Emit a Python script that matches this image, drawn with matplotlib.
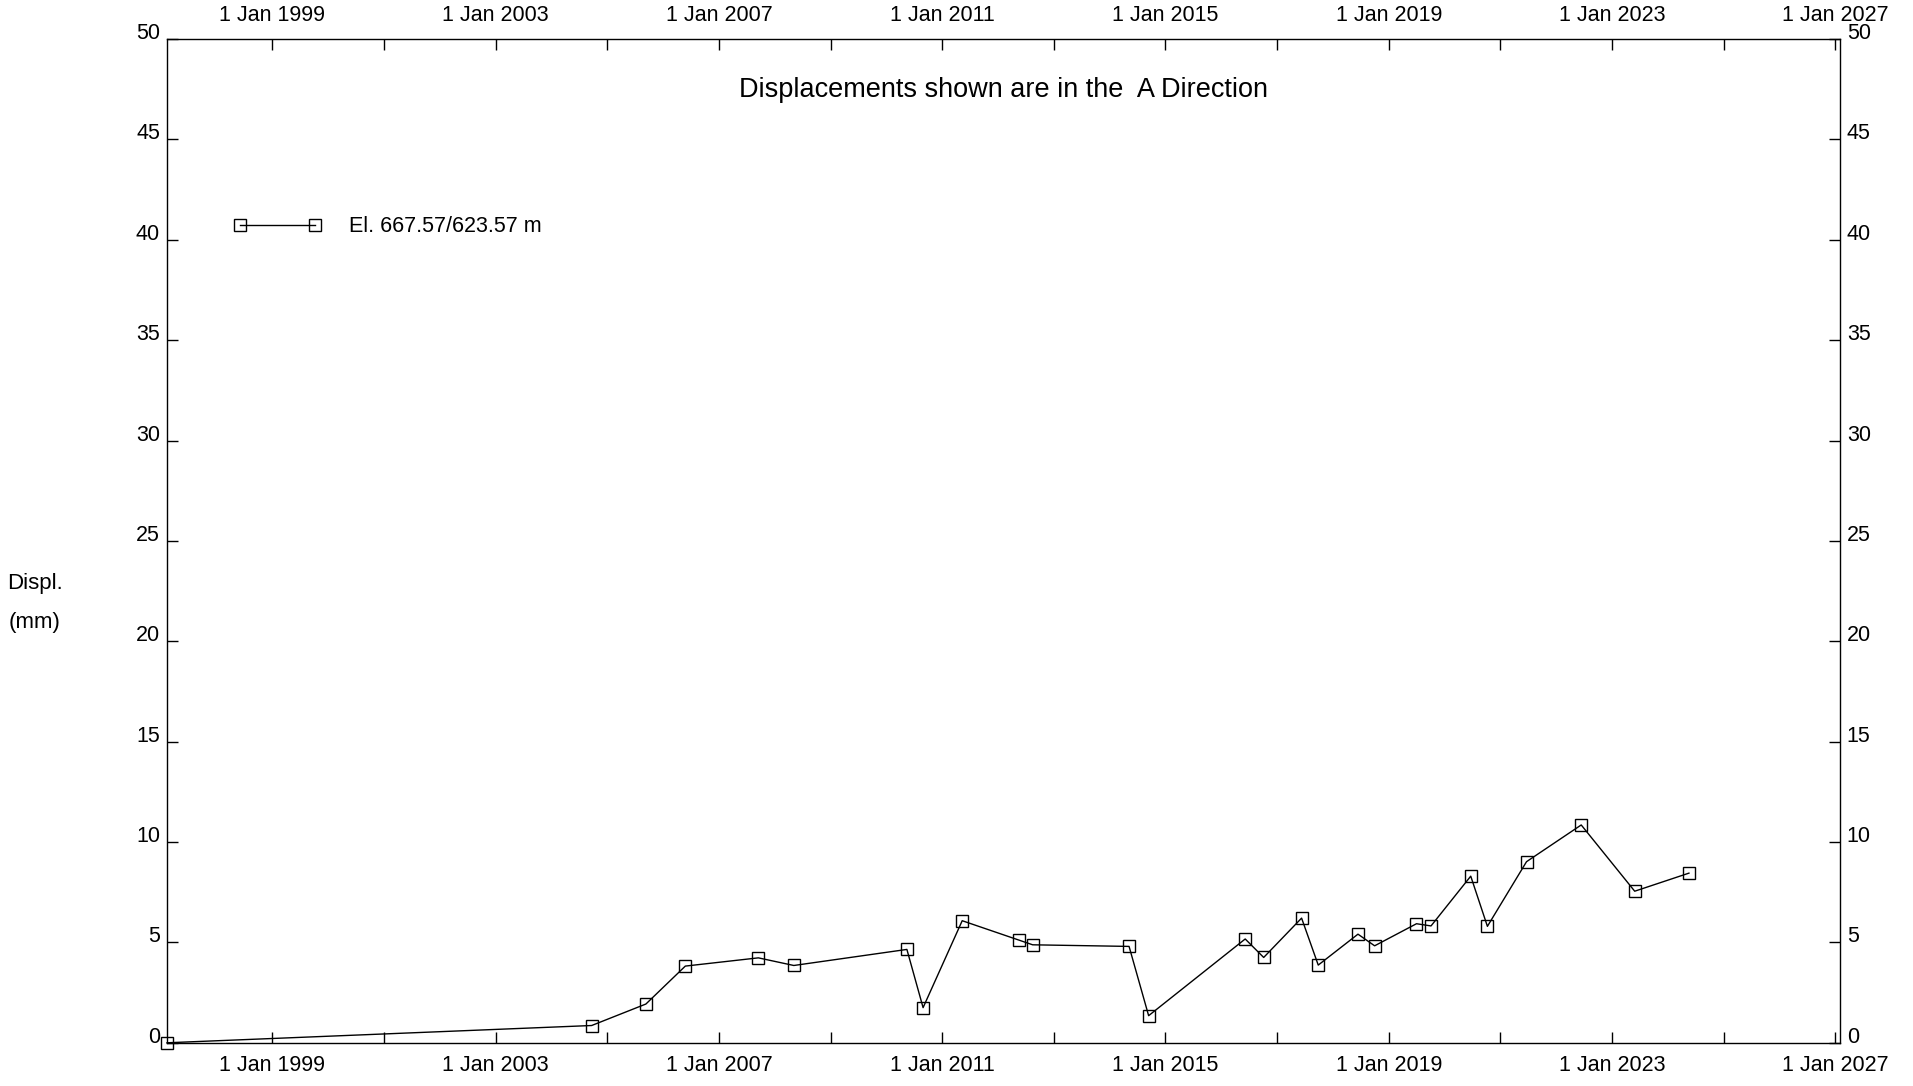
import numpy as np
import pandas as pd
import matplotlib
matplotlib.use('Agg')
import matplotlib.pyplot as plt
import matplotlib.dates as mdates
from matplotlib.ticker import FixedLocator, FuncFormatter, MultipleLocator

plt.rcParams['font.family'] = ['Liberation Sans', 'DejaVu Sans']

# readings (date, displacement in mm)
dates = ['1997-02-10', '2004-09-20', '2005-09-10', '2006-05-26', '2007-09-16',
         '2008-05-05', '2010-05-15', '2010-08-29', '2011-05-12', '2012-05-15',
         '2012-08-15', '2014-05-08', '2014-09-13', '2016-06-06', '2016-10-05',
         '2017-06-10', '2017-09-27', '2018-06-14', '2018-10-01', '2019-07-02',
         '2019-10-05', '2020-06-21', '2020-10-08', '2021-06-21', '2022-06-14',
         '2023-05-30', '2024-05-19']
displ = [0.0, 0.86, 1.93, 3.82, 4.23,
         3.85, 4.65, 1.75, 6.08, 5.12,
         4.88, 4.80, 1.35, 5.17, 4.25,
         6.21, 3.87, 5.41, 4.83, 5.93,
         5.82, 8.30, 5.80, 9.02, 10.85,
         7.55, 8.45]
series_name = 'El. 667.57/623.57 m'
title = 'Displacements shown are in the  A Direction'

label_years = [1999, 2003, 2007, 2011, 2015, 2019, 2023, 2027]
minor_years = [2001, 2005, 2009, 2013, 2017, 2021, 2025]
x_end = '2027-02-01'

t = pd.to_datetime(dates)

fig = plt.figure(figsize=(19.13, 10.86), dpi=100)
ax = fig.add_axes([0.0873, 0.0398, 0.8745, 0.9243])

ax.plot(t, displ, color='black', lw=1.0, marker='s', markersize=8,
        markerfacecolor='none', markeredgecolor='black', markeredgewidth=1.0,
        label=series_name, clip_on=False)

ax.set_xlim(t[0], pd.Timestamp(x_end))
ax.set_ylim(0, 50)

major = [mdates.date2num(pd.Timestamp(f'{y}-01-01')) for y in label_years]
minor = [mdates.date2num(pd.Timestamp(f'{y}-01-01')) for y in minor_years]
ax.xaxis.set_major_locator(FixedLocator(major))
ax.xaxis.set_minor_locator(FixedLocator(minor))


def fmt(x, pos):
    d = mdates.num2date(x)
    return f'{d.day} {d:%b %Y}'


ax.xaxis.set_major_formatter(FuncFormatter(fmt))
ax.yaxis.set_major_locator(MultipleLocator(5))

ax.tick_params(axis='both', which='both', direction='in', length=8, width=1,
               labelsize=15.5, top=True, right=True, labeltop=True, labelright=True)
ax.tick_params(axis='x', pad=9)
ax.tick_params(axis='y', pad=5)
for lab in ax.get_yticklabels(which='both'):
    lab.set_va('baseline')

for s in ax.spines.values():
    s.set_linewidth(1.0)

ax.text(0.5, 0.949, title, transform=ax.transAxes, ha='center', va='center',
        fontsize=19.5)

ax.legend(loc='center left', bbox_to_anchor=(0.0395, 0.8127), frameon=False,
          numpoints=2, handlelength=4.1, handletextpad=1.3, borderpad=0,
          borderaxespad=0, fontsize=15.5)

fig.text(35 / 1913, 1 - 603 / 1086, 'Displ.\n\n(mm)', ha='center', va='center',
         fontsize=16, linespacing=0.9)

fig.savefig('out.png', dpi=100)
